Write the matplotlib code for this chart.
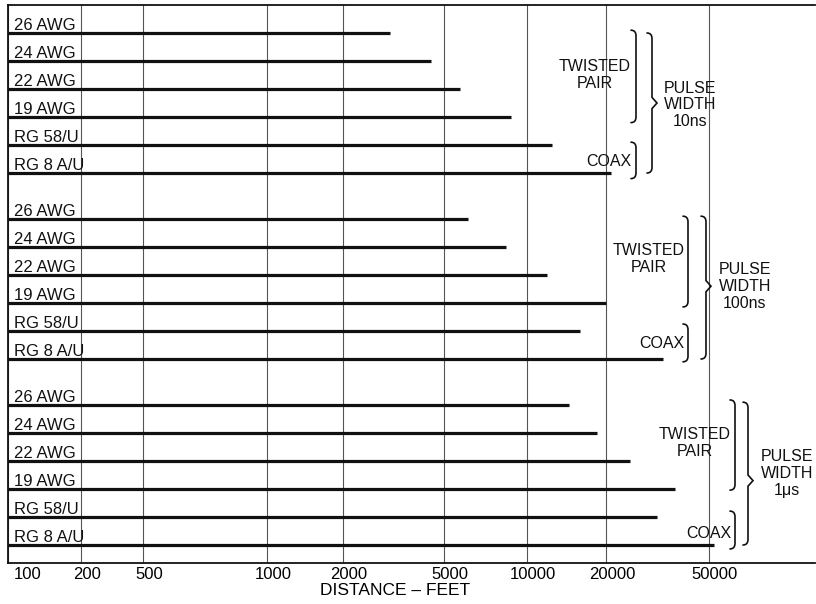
import matplotlib
matplotlib.use("Agg")
import matplotlib.pyplot as plt
import matplotlib.transforms as mtransforms
import numpy as np
from matplotlib.path import Path
from matplotlib.patches import PathPatch

# ── data ──────────────────────────────────────────────────────────────────────
CABLES = ["26 AWG", "24 AWG", "22 AWG", "19 AWG", "RG 58/U", "RG 8 A/U"]
PULSE_LABELS = ["10ns", "100ns", "1\u03bcs"]
DIST_10NS = [3050, 4450, 5700, 8750, 12450, 20900]
DIST_100NS = [6100, 8400, 11900, 20000, 15900, 33200]
DIST_1US = [14450, 18500, 24750, 37000, 31500, 52300]
TICK_VALUES = [100, 200, 500, 1000, 2000, 5000, 10000, 20000, 50000]
TICK_LABELS = ["100", "200", "500", "1000", "2000", "5000", "10000", "20000", "50000"]

# the printed scale is not a true log axis: grid positions (pixels) as drawn
GRID_PX = [8, 81, 143, 267, 343, 444, 527, 606, 709]

plt.rcParams.update({
    "font.family": ["Liberation Sans", "DejaVu Sans"],
    "axes.unicode_minus": False,
})

_kx = np.log10([10] + TICK_VALUES + [1e6])
_slope_lo = (GRID_PX[1] - GRID_PX[0]) / np.log10(2)
_slope_hi = (GRID_PX[-1] - GRID_PX[-2]) / np.log10(2.5)
_kp = np.array([GRID_PX[0] - _slope_lo] + GRID_PX + [GRID_PX[-1] + _slope_hi * np.log10(20)])


def fwd(x):
    x = np.clip(np.asarray(x, dtype=float), 1e-3, None)
    return np.interp(np.log10(x), _kx, _kp)


def inv(p):
    return 10 ** np.interp(np.asarray(p, dtype=float), _kp, _kx)


fig = plt.figure(figsize=(8.16, 6.04), dpi=100)
ax = fig.add_axes([8 / 816, 1 - 563 / 604, 807 / 816, 558 / 604])
ax.set_xscale("function", functions=(fwd, inv))
ax.set_xlim(100, float(inv(815)))

ROW_H = 28.0
GROUP_STEP = 186 / ROW_H
ax.set_ylim((563 - 33) / ROW_H, (5 - 33) / ROW_H)

ax.spines["right"].set_visible(False)
for spine in ["left", "top", "bottom"]:
    ax.spines[spine].set_linewidth(1.3)
    ax.spines[spine].set_color("#111111")

ax.set_yticks([])
ax.set_xticks(TICK_VALUES)
ax.set_xticklabels(TICK_LABELS, fontsize=12)
ax.xaxis.set_minor_locator(matplotlib.ticker.NullLocator())
ax.tick_params(axis="x", length=0, pad=3)
shift = mtransforms.ScaledTranslation(6 / 100, 0, fig.dpi_scale_trans)
for i, lab in enumerate(ax.get_xticklabels()):
    lab.set_transform(lab.get_transform() + shift)
    if i == 0:
        lab.set_ha("left")
ax.grid(True, axis="x", color="#555555", linewidth=0.8)
ax.set_axisbelow(True)

ax.set_xlabel("DISTANCE \u2013 FEET", fontsize=12.5)
ax.xaxis.set_label_coords((395 - 8) / 807, -0.036, transform=ax.transAxes)
ax.xaxis.label.set_va("top")

bt = mtransforms.blended_transform_factory(ax.transAxes, ax.transData)


def px(x):
    return (x - 8) / 807


def brace(x, y0, y1, tip=None, w=5):
    h = 0.2
    xa, xl = px(x), px(x - w)
    verts = [(xl, y0), (xa, y0), (xa, y0 + h)]
    codes = [Path.MOVETO, Path.CURVE3, Path.CURVE3]
    if tip is not None:
        verts += [(xa, tip - h), (px(x + w), tip), (xa, tip + h)]
        codes += [Path.LINETO] * 3
    verts += [(xa, y1 - h), (xa, y1), (xl, y1)]
    codes += [Path.LINETO, Path.CURVE3, Path.CURVE3]
    ax.add_patch(PathPatch(Path(verts, codes), transform=bt, fill=False,
                           lw=1.2, color="#111111", capstyle="round"))


groups = [DIST_10NS, DIST_100NS, DIST_1US]
layout = [
    dict(tw=(595, 1.5), cx=(631, 4.6), pw=(690, 2.57), ib=636, ob=652,
         tb=(-0.1, 3.2), cb=(3.9, 5.2), obr=(0.0, 5.0, 2.5)),
    dict(tw=(649, 1.43), cx=(684, 4.45), pw=(745, 2.4), ib=688, ob=706,
         tb=(-0.1, 3.14), cb=(3.75, 5.1), obr=(-0.1, 5.0, 2.4)),
    dict(tw=(695, 1.35), cx=(731, 4.6), pw=(787, 2.45), ib=735, ob=748,
         tb=(-0.18, 3.04), cb=(3.79, 5.14), obr=(-0.1, 5.0, 2.7)),
]

for g, (dist, lay, pl) in enumerate(zip(groups, layout, PULSE_LABELS)):
    base = g * GROUP_STEP
    ys = base + np.arange(len(CABLES))
    ax.hlines(ys, 100, dist, color="#111111", linewidth=2.3, zorder=3)
    for y, name in zip(ys, CABLES):
        ax.text(px(14), y - 0.12, name, transform=bt, fontsize=12,
                ha="left", va="baseline", color="#111111")
    ax.text(px(lay["tw"][0]), base + lay["tw"][1], "TWISTED\nPAIR", transform=bt,
            fontsize=11.5, ha="center", va="center", multialignment="center",
            linespacing=1.15, color="#111111")
    ax.text(px(lay["cx"][0]), base + lay["cx"][1], "COAX", transform=bt,
            fontsize=11.5, ha="right", va="center", color="#111111")
    ax.text(px(lay["pw"][0]), base + lay["pw"][1], "PULSE\nWIDTH\n" + pl, transform=bt,
            fontsize=11.5, ha="center", va="center", multialignment="center",
            linespacing=1.15, color="#111111")
    brace(lay["ib"], base + lay["tb"][0], base + lay["tb"][1])
    brace(lay["ib"], base + lay["cb"][0], base + lay["cb"][1])
    o0, o1, ot = lay["obr"]
    brace(lay["ob"], base + o0, base + o1, tip=base + ot)

fig.savefig("out.png", dpi=100)
